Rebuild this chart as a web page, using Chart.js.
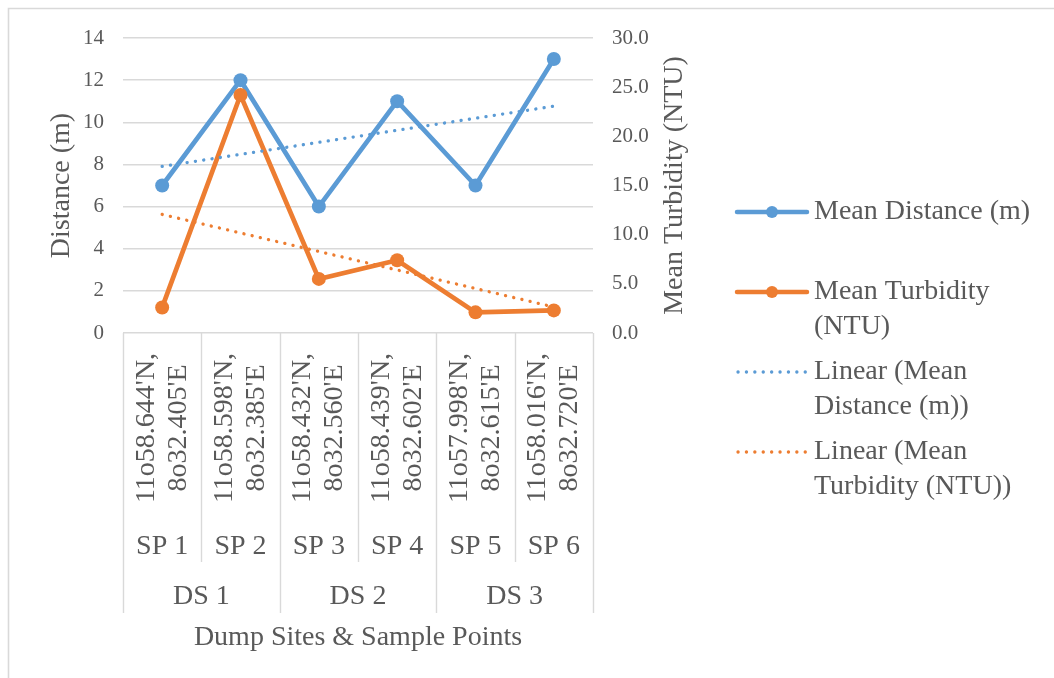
<!DOCTYPE html>
<html>
<head>
<meta charset="utf-8">
<script src="https://cdn.jsdelivr.net/npm/chart.js@4/dist/chart.umd.min.js"></script>
<style>
  html, body { margin: 0; padding: 0; background: #ffffff; }
  #wrap { width: 1054px; height: 678px; position: relative; }
</style>
</head>
<body>
<div id="wrap"><canvas id="chart" width="1054" height="678"></canvas></div>
<script>
// Sample point coordinates (two text lines each), sample point names and dump sites
const sampleCoords = [
  ["11o58.644'N,", "8o32.405'E"],
  ["11o58.598'N,", "8o32.385'E"],
  ["11o58.432'N,", "8o32.560'E"],
  ["11o58.439'N,", "8o32.602'E"],
  ["11o57.998'N,", "8o32.615'E"],
  ["11o58.016'N,", "8o32.720'E"]
];
const samplePoints = ['SP 1', 'SP 2', 'SP 3', 'SP 4', 'SP 5', 'SP 6'];
const dumpSites = ['DS 1', 'DS 2', 'DS 3'];
const pointsPerSite = [2, 2, 2];

// Measured series
const meanDistance = [7, 12, 6, 11, 7, 13];           // m
const meanTurbidity = [2.6, 24.2, 5.5, 7.4, 2.1, 2.3]; // NTU

// Axis ranges
const distanceAxis = { min: 0, max: 14, step: 2 };
const turbidityAxis = { min: 0, max: 30, step: 5 };

// Least-squares linear trend evaluated at each sample point
function linearTrend(values) {
  const n = values.length;
  const mx = (n - 1) / 2;
  const my = values.reduce((a, b) => a + b, 0) / n;
  let sxy = 0, sxx = 0;
  values.forEach((v, i) => { sxy += (i - mx) * (v - my); sxx += (i - mx) * (i - mx); });
  const slope = sxy / sxx;
  return values.map((_, i) => my + slope * (i - mx));
}

const BLUE = '#5B9BD5';
const ORANGE = '#ED7D31';
const TEXT = '#595959';
const GRID = '#D9D9D9';
const FONT = "'Liberation Serif', 'Times New Roman', serif";
const DOTS = [0.1, 8.3];

const legendItems = [
  { lines: ['Mean Distance (m)'], color: BLUE, dotted: false, y: 212 },
  { lines: ['Mean Turbidity', '(NTU)'], color: ORANGE, dotted: false, y: 292 },
  { lines: ['Linear (Mean', 'Distance (m))'], color: BLUE, dotted: true, y: 372 },
  { lines: ['Linear (Mean', 'Turbidity (NTU))'], color: ORANGE, dotted: true, y: 452 }
];

// Draws the outer frame, the grouped category axis, the right axis title and the legend
const decorations = {
  id: 'decorations',
  afterDraw(chart) {
    const ctx = chart.ctx;
    const area = chart.chartArea;
    const x = chart.scales.x;
    ctx.save();

    // outer frame (left and top edges)
    ctx.strokeStyle = GRID;
    ctx.lineWidth = 1.6;
    ctx.beginPath();
    ctx.moveTo(8.5, 678);
    ctx.lineTo(8.5, 8.5);
    ctx.lineTo(1054, 8.5);
    ctx.stroke();

    // category separators
    const n = samplePoints.length;
    const edge = i => {
      if (i === 0) return area.left;
      if (i === n) return area.right;
      return (x.getPixelForValue(i - 1) + x.getPixelForValue(i)) / 2;
    };
    const siteEdges = new Set([0]);
    let acc = 0;
    pointsPerSite.forEach(c => { acc += c; siteEdges.add(acc); });
    ctx.strokeStyle = GRID;
    ctx.lineWidth = 1.4;
    for (let i = 0; i <= n; i++) {
      const px = Math.round(edge(i)) + 0.5;
      ctx.beginPath();
      ctx.moveTo(px, area.bottom);
      ctx.lineTo(px, siteEdges.has(i) ? 613 : 562);
      ctx.stroke();
    }

    // rotated coordinate labels
    ctx.fillStyle = TEXT;
    ctx.font = '28px ' + FONT;
    ctx.textAlign = 'center';
    ctx.textBaseline = 'middle';
    sampleCoords.forEach((pair, i) => {
      const cx = x.getPixelForValue(i);
      ctx.save();
      ctx.translate(cx, 428);
      ctx.rotate(-Math.PI / 2);
      ctx.fillText(pair[0], 0, -16);
      ctx.fillText(pair[1], 0, 16);
      ctx.restore();
    });

    // sample point names
    samplePoints.forEach((sp, i) => {
      ctx.fillText(sp, x.getPixelForValue(i), 547);
    });

    // dump site names
    let start = 0;
    dumpSites.forEach((ds, k) => {
      const end = start + pointsPerSite[k];
      ctx.fillText(ds, (edge(start) + edge(end)) / 2, 597);
      start = end;
    });

    // axis title under the categories
    ctx.fillText('Dump Sites & Sample Points', (area.left + area.right) / 2, 638);

    // right axis title
    ctx.save();
    ctx.translate(675, (area.top + area.bottom) / 2);
    ctx.rotate(-Math.PI / 2);
    ctx.fillText('Mean Turbidity (NTU)', 0, 0);
    ctx.restore();

    // legend
    legendItems.forEach(item => {
      ctx.save();
      ctx.strokeStyle = item.color;
      if (item.dotted) {
        ctx.lineWidth = 3.3;
        ctx.lineCap = 'round';
        ctx.setLineDash(DOTS);
        ctx.beginPath();
        ctx.moveTo(738, item.y);
        ctx.lineTo(806, item.y);
        ctx.stroke();
      } else {
        ctx.lineWidth = 4.5;
        ctx.lineCap = 'round';
        ctx.beginPath();
        ctx.moveTo(737, item.y);
        ctx.lineTo(807, item.y);
        ctx.stroke();
        ctx.fillStyle = item.color;
        ctx.beginPath();
        ctx.arc(772, item.y, 6, 0, Math.PI * 2);
        ctx.fill();
      }
      ctx.restore();
      ctx.fillStyle = TEXT;
      ctx.textAlign = 'left';
      item.lines.forEach((t, j) => ctx.fillText(t, 814, item.y + j * 34.5));
    });

    ctx.restore();
  }
};

new Chart(document.getElementById('chart'), {
  type: 'line',
  data: {
    labels: samplePoints,
    datasets: [
      {
        label: 'Linear (Mean Distance (m))',
        data: linearTrend(meanDistance),
        yAxisID: 'y',
        borderColor: BLUE,
        borderWidth: 3.3,
        borderDash: DOTS,
        borderCapStyle: 'round',
        pointRadius: 0,
        fill: false,
        order: 0
      },
      {
        label: 'Linear (Mean Turbidity (NTU))',
        data: linearTrend(meanTurbidity),
        yAxisID: 'y1',
        borderColor: ORANGE,
        borderWidth: 3.3,
        borderDash: DOTS,
        borderCapStyle: 'round',
        pointRadius: 0,
        fill: false,
        order: 1
      },
      {
        label: 'Mean Turbidity (NTU)',
        data: meanTurbidity,
        yAxisID: 'y1',
        borderColor: ORANGE,
        backgroundColor: ORANGE,
        borderWidth: 4.7,
        pointRadius: 7,
        pointBorderWidth: 0,
        pointBackgroundColor: ORANGE,
        tension: 0,
        fill: false,
        order: 2
      },
      {
        label: 'Mean Distance (m)',
        data: meanDistance,
        yAxisID: 'y',
        borderColor: BLUE,
        backgroundColor: BLUE,
        borderWidth: 4.7,
        pointRadius: 7,
        pointBorderWidth: 0,
        pointBackgroundColor: BLUE,
        tension: 0,
        fill: false,
        order: 3
      }
    ]
  },
  options: {
    responsive: false,
    animation: false,
    devicePixelRatio: 1,
    layout: { padding: { left: 41, right: 351, top: 38, bottom: 345 } },
    plugins: {
      legend: { display: false },
      tooltip: { enabled: false }
    },
    scales: {
      x: {
        type: 'category',
        display: false,
        offset: true
      },
      y: {
        position: 'left',
        min: distanceAxis.min,
        max: distanceAxis.max,
        afterFit: s => { s.width = 82; },
        border: { display: false },
        grid: { color: GRID, lineWidth: 1.5, drawTicks: false },
        ticks: {
          stepSize: distanceAxis.step,
          padding: 19,
          color: TEXT,
          font: { family: FONT, size: 21 }
        },
        title: {
          display: true,
          text: 'Distance (m)',
          color: TEXT,
          font: { family: FONT, size: 28 },
          padding: { top: 4, bottom: 4 }
        }
      },
      y1: {
        position: 'right',
        min: turbidityAxis.min,
        max: turbidityAxis.max,
        afterFit: s => { s.width = 110; },
        border: { display: false },
        grid: { display: false, drawTicks: false },
        ticks: {
          stepSize: turbidityAxis.step,
          padding: 19,
          color: TEXT,
          font: { family: FONT, size: 21 },
          callback: v => Number(v).toFixed(1)
        }
      }
    }
  },
  plugins: [decorations]
});
</script>
</body>
</html>
